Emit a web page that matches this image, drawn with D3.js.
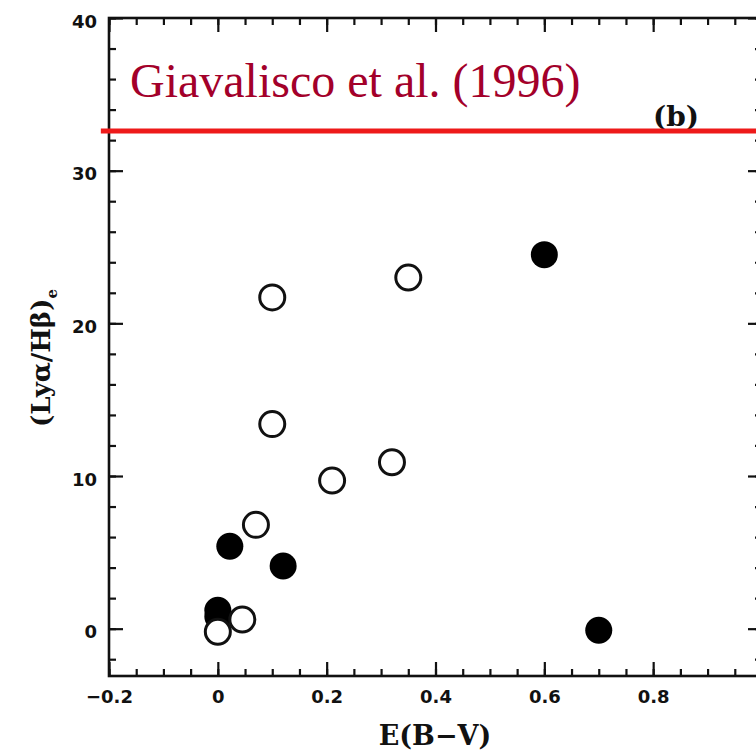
<!DOCTYPE html>
<html>
<head>
<meta charset="utf-8">
<script src="https://cdn.jsdelivr.net/npm/d3@7"></script>
<style>
html,body{margin:0;padding:0;background:#fff;}
svg{display:block;}
</style>
</head>
<body>
<svg id="chart" width="756" height="755"></svg>
<script>
// ---- data ----
const openX = [0.10, 0.35, 0.10, 0.32, 0.21, 0.07, 0.045, 0.0];
const openY = [21.7, 23.0, 13.4, 10.9, 9.7, 6.8, 0.6, -0.2];
const filledX = [0.60, 0.022, 0.12, 0.70, 0.0, 0.0];
const filledY = [24.5, 5.4, 4.1, -0.1, 1.2, 0.8];
const xMajorTicks = [-0.2, 0, 0.2, 0.4, 0.6, 0.8, 1.0];
const xTickLabels = ["\u22120.2", "0", "0.2", "0.4", "0.6", "0.8", ""];
const yMajorTicks = [0, 10, 20, 30, 40];
const yTickLabels = ["0", "10", "20", "30", "40"];
const refLineValue = 32.6;
const refLineLabel = "Giavalisco et al. (1996)";
const panelLabel = "(b)";
const xTitle = "E(B\u2212V)";

// ---- layout ----
const svg = d3.select("#chart");
const x = d3.scaleLinear().domain([-0.2, 1.0]).range([109, 762]);
const y = d3.scaleLinear().domain([-3.1, 40]).range([676, 18]);
const xMinor = d3.range(-0.2, 1.0001, 0.05).map(v => +v.toFixed(2));
const yMinor = d3.range(-2, 40.001, 2);

const fmtX = (d, i) => xTickLabels[i];
const fmtY = (d, i) => yTickLabels[i];
const tickFont = "DejaVu Sans, sans-serif";

function styleAxis(g){
  g.select(".domain").remove();
  g.selectAll("line").attr("stroke","#111").attr("stroke-width",2.2);
  g.selectAll("text").attr("font-family",tickFont).attr("font-weight","bold")
    .attr("font-size",18).attr("fill","#111");
}

// frame
svg.append("rect").attr("x",x(-0.2)).attr("y",y(40))
  .attr("width",x(1.0)-x(-0.2)).attr("height",y(-3.1)-y(40))
  .attr("fill","none").attr("stroke","#111").attr("stroke-width",2.6);

// bottom axis
svg.append("g").attr("transform",`translate(0,${y(-3.1)})`)
  .call(d3.axisBottom(x).tickValues(xMinor).tickSize(-7).tickFormat(""))
  .call(styleAxis);
svg.append("g").attr("transform",`translate(0,${y(-3.1)})`)
  .call(d3.axisBottom(x).tickValues(xMajorTicks).tickSize(-14).tickPadding(14).tickFormat(fmtX))
  .call(styleAxis);
// top axis
svg.append("g").attr("transform",`translate(0,${y(40)})`)
  .call(d3.axisTop(x).tickValues(xMinor).tickSize(-7).tickFormat(""))
  .call(styleAxis);
svg.append("g").attr("transform",`translate(0,${y(40)})`)
  .call(d3.axisTop(x).tickValues(xMajorTicks).tickSize(-14).tickFormat(""))
  .call(styleAxis);
// left axis
svg.append("g").attr("transform",`translate(${x(-0.2)},0)`)
  .call(d3.axisLeft(y).tickValues(yMinor).tickSize(-7).tickFormat(""))
  .call(styleAxis);
const gl = svg.append("g").attr("transform",`translate(${x(-0.2)},0)`)
  .call(d3.axisLeft(y).tickValues(yMajorTicks).tickSize(-14).tickPadding(12).tickFormat(fmtY))
  .call(styleAxis);
gl.selectAll("text").attr("dy","0.5em");
// right axis
svg.append("g").attr("transform",`translate(${x(1.0)},0)`)
  .call(d3.axisRight(y).tickValues(yMinor).tickSize(-7).tickFormat(""))
  .call(styleAxis);
svg.append("g").attr("transform",`translate(${x(1.0)},0)`)
  .call(d3.axisRight(y).tickValues(yMajorTicks).tickSize(-14).tickFormat(""))
  .call(styleAxis);

// axis titles
svg.append("text").attr("x",435).attr("y",745).attr("text-anchor","middle")
  .attr("font-family","DejaVu Serif, serif").attr("font-weight","bold")
  .attr("font-size",27).attr("fill","#111").text(xTitle);

const yt = svg.append("text").attr("transform","translate(50,358) rotate(-90)")
  .attr("text-anchor","middle").attr("font-family","DejaVu Serif, serif")
  .attr("font-weight","bold").attr("font-size",26).attr("fill","#111");
yt.append("tspan").text("(Ly\u03b1/H\u03b2)");
yt.append("tspan").attr("font-size",15).attr("dy",7).text("e");

// panel label
svg.append("text").attr("x",676).attr("y",126).attr("text-anchor","middle")
  .attr("font-family","DejaVu Serif, serif").attr("font-weight","bold")
  .attr("font-size",28).attr("fill","#111").text(panelLabel);

// points: filled first, open on top with white fill
svg.append("g").selectAll("circle").data(filledX.map((v,i)=>[v,filledY[i]]))
  .join("circle").attr("cx",d=>x(d[0])).attr("cy",d=>y(d[1])).attr("r",13.5)
  .attr("fill","#000");
svg.append("g").selectAll("circle").data(openX.map((v,i)=>[v,openY[i]]))
  .join("circle").attr("cx",d=>x(d[0])).attr("cy",d=>y(d[1])).attr("r",12.5)
  .attr("fill","#fff").attr("stroke","#111").attr("stroke-width",3);

// reference line and label
svg.append("line").attr("x1",x(-0.215)).attr("x2",x(1.0))
  .attr("y1",y(refLineValue)).attr("y2",y(refLineValue))
  .attr("stroke","#ee1a1a").attr("stroke-width",5);
svg.append("text").attr("x",130).attr("y",97)
  .attr("font-family","Liberation Serif, Times New Roman, serif")
  .attr("font-size",48).attr("fill","#a3002a").text(refLineLabel);
</script>
</body>
</html>
